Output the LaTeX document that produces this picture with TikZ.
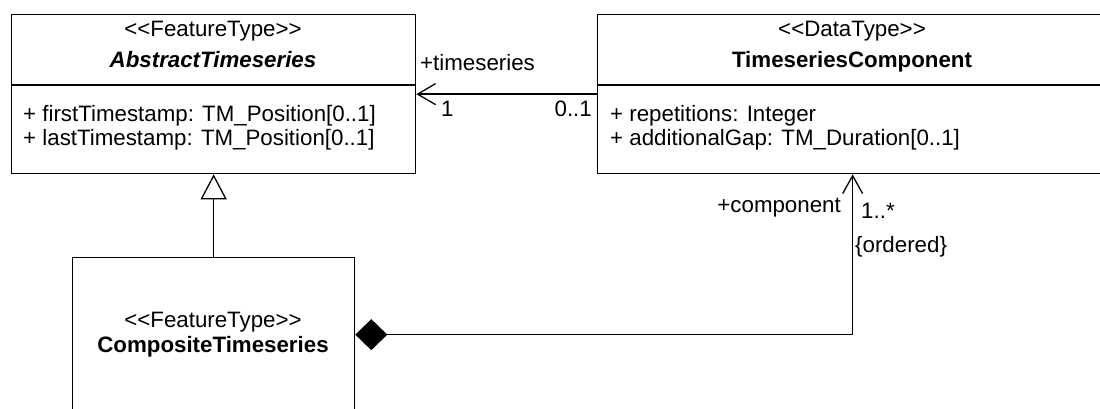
\documentclass[tikz,border=0pt]{standalone}
\usepackage{fontspec}
\setmainfont{Liberation Sans}
\usetikzlibrary{arrows.meta}
% stereotype brackets written out, not ligatured into guillemets
\newcommand{\stereo}[1]{<{}<#1>{}>}
\begin{document}
\begin{tikzpicture}[x=1pt,y=-1pt,
  every node/.style={font=\fontsize{22.3}{26}\selectfont, inner sep=0pt},
  cls/.style={draw, line width=1.3pt, rectangle, anchor=north west},
  txt/.style={anchor=base},
  attr/.style={anchor=base west},
  uml/.style={line width=1.3pt},
  assoc/.style={uml, -{Straight Barb[length=18pt,width=21pt,line width=1.3pt]}},
  gen/.style={uml, -{Triangle[open,length=25pt,width=26pt,line width=1.3pt]}},
  comp/.style={uml, {Diamond[length=32pt,width=31pt]}-{Straight Barb[length=18pt,width=20pt,line width=1.3pt]}}]
\useasboundingbox (0,0) rectangle (1100,409);

% class boxes
\node[cls, minimum width=404pt, minimum height=159pt] (at) at (11,14) {};
\node[cls, minimum width=510pt, minimum height=159pt] (tc) at (597,14) {};
\node[cls, minimum width=282pt, minimum height=154pt] (ct) at (72,257) {};

% compartment separators
\draw[uml] (at.west |- 0,85) -- (at.east |- 0,85);
\draw[uml] (tc.west |- 0,85) -- (tc.east |- 0,85);

% AbstractTimeseries
\node[txt] (atst) at (213,37) {\stereo{FeatureType}};
\node[txt] (atnm) at (213,68) {\textbf{\textit{AbstractTimeseries}}};
\node[attr] (ata1) at (23,122) {+ firstTimestamp: TM\_Position[0..1]};
\node[attr] (ata2) at (23,146) {+ lastTimestamp: TM\_Position[0..1]};

% TimeseriesComponent
\node[txt] (tcst) at (852,37) {\stereo{DataType}};
\node[txt] (tcnm) at (852,68) {\textbf{TimeseriesComponent}};
\node[attr] (tca1) at (610,122) {+ repetitions: Integer};
\node[attr] (tca2) at (610,146) {+ additionalGap: TM\_Duration[0..1]};

% CompositeTimeseries
\node[txt] (ctst) at (213,327) {\stereo{FeatureType}};
\node[txt] (ctnm) at (213,352) {\textbf{CompositeTimeseries}};

% relationships
\draw[assoc] (tc.west) -- (at.east);
\draw[gen] (ct.north) -- (at.south);
\draw[comp] (ct.east) -| (tc.south);

% role names and multiplicities
\node[attr] (rts) at (420,71) {+timeseries};
\node[attr] (m1) at (441,117) {1};
\node[anchor=base east] (m01) at (592,117) {0..1};
\node[anchor=base east] (rcp) at (841,212) {+component};
\node[attr] (m1s) at (861,218) {1..*};
\node[attr] (ord) at (855,252) {\{ordered\}};
\end{tikzpicture}
\end{document}
